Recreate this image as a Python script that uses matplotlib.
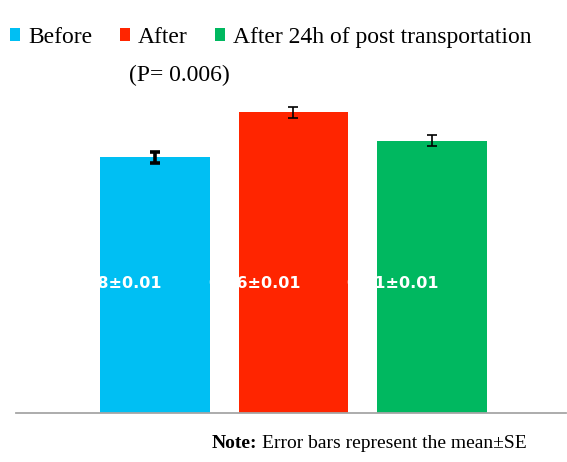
import matplotlib
matplotlib.use("Agg")
import matplotlib.pyplot as plt

groups = ["Before", "After", "After 24h of post transportation"]
means = [0.48, 0.56, 0.51]
se = [0.01, 0.01, 0.01]
bar_labels = ["0.48\u00b10.01", "0.56\u00b10.01", "0.51\u00b10.01"]
colors = ["#00BFF3", "#FF2500", "#00B860"]
err_widths = [2.6, 1.2, 1.2]

W, H = 567, 462
fig = plt.figure(figsize=(W / 100, H / 100), dpi=100)

# axes placed in pixel terms: baseline at y=413, line from x=16 to 566
ax = fig.add_axes([16 / W, (H - 413) / H, 550 / W, (413 - 90) / H])

x = list(range(len(groups)))
bars = ax.bar(x, means, width=0.794, color=colors, zorder=2)
for i in x:
    ax.errorbar(i, means[i], yerr=se[i], fmt="none", ecolor="black",
                elinewidth=err_widths[i], capsize=3.8, capthick=err_widths[i], zorder=3)
    # white labels, only the part inside the bar shows
    t = ax.text(i + 0.05, 0.255, bar_labels[i], color="white", fontsize=11.5,
                fontweight="bold", ha="right", va="center", zorder=4)
    t.set_clip_path(bars[i])

ax.set_xlim(-1.004, 2.968)
ax.set_ylim(0.025, 0.60)
for s in ["left", "right", "top"]:
    ax.spines[s].set_visible(False)
ax.spines["bottom"].set_color("#A6A6A6")
ax.spines["bottom"].set_linewidth(1.3)
ax.set_xticks([])
ax.set_yticks([])

serif = "Liberation Serif"
fig.legend(bars, groups, loc="upper left", bbox_to_anchor=(10 / W, 1 - 27 / H),
           ncol=3, frameon=False, borderpad=0, borderaxespad=0,
           handlelength=0.42, handleheight=0.42, handletextpad=0.36,
           columnspacing=1.15, prop={"family": serif, "size": 17})

fig.text(129 / W, 1 - 75 / H, "(P= 0.006)", family=serif, fontsize=17,
         ha="left", va="center")

t1 = fig.text(212 / W, 1 - 448 / H, "Note:", family=serif, fontsize=14,
              fontweight="bold", ha="left", va="baseline")
fig.canvas.draw()
bb = t1.get_window_extent()
fig.text((bb.x1 + 4) / W, 1 - 448 / H, "Error bars represent the mean\u00b1SE",
         family=serif, fontsize=14, ha="left", va="baseline")

fig.savefig("out.png", dpi=100)
